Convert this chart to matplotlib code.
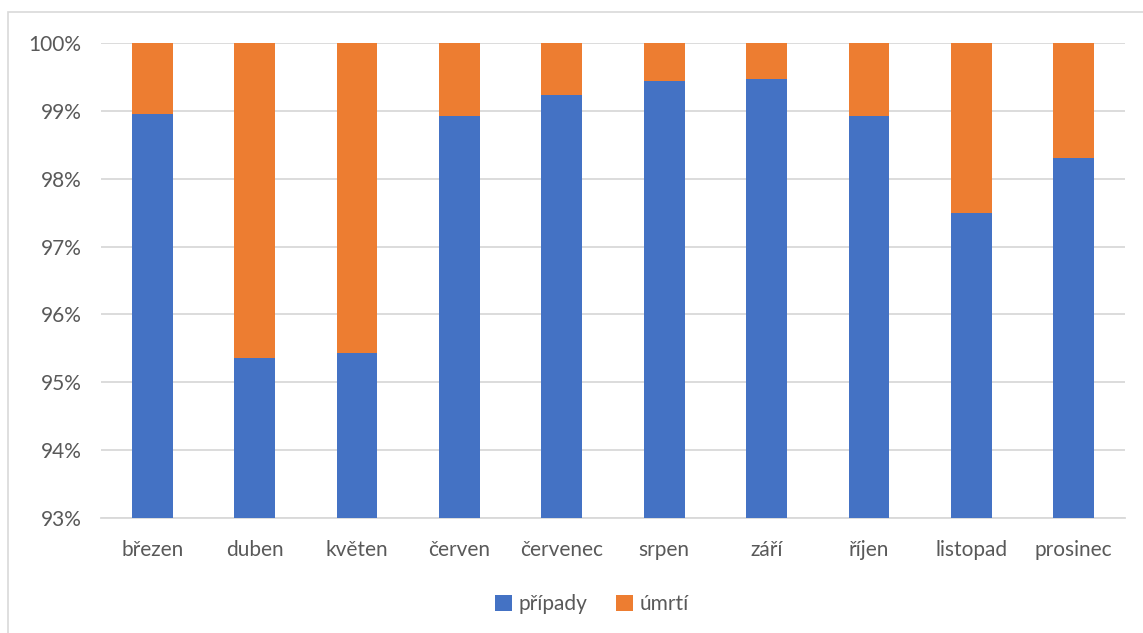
import matplotlib
matplotlib.use("Agg")
import matplotlib.pyplot as plt
from matplotlib.patches import Rectangle
from matplotlib.ticker import FuncFormatter

# months and share of cases (percent); deaths fill up to 100 %
mesice = ["březen", "duben", "květen", "červen", "červenec",
          "srpen", "září", "říjen", "listopad", "prosinec"]
pripady = [98.95, 95.36, 95.43, 98.93, 99.24, 99.44, 99.47, 98.92, 97.49, 98.31]
umrti = [100 - p for p in pripady]

plt.rcParams['font.family'] = ['Lato', 'DejaVu Sans']

fig = plt.figure(figsize=(11.43, 6.33), dpi=100)
ax = fig.add_axes([101 / 1143, 1 - 518 / 633, 1024 / 1143, 475 / 633])

x = range(len(mesice))
ax.bar(x, pripady, width=0.40, color='#4472c4', label='případy', zorder=3)
ax.bar(x, umrti, width=0.40, bottom=pripady, color='#ed7d31', label='úmrtí', zorder=3)

ax.set_ylim(93, 100)
ax.set_xlim(-0.5, len(mesice) - 0.5)
ax.set_yticks(range(93, 101))
ax.yaxis.set_major_formatter(FuncFormatter(lambda v, p: f'{v:.0f}%'))
ax.set_xticks(list(x))
ax.set_xticklabels(mesice)
ax.tick_params(axis='both', length=0, labelsize=15, labelcolor='#595959')
ax.tick_params(axis='x', pad=16)
ax.tick_params(axis='y', pad=14)
ax.grid(axis='y', color='#d9d9d9', linewidth=1.3, zorder=0)
for s in ['top', 'right', 'left']:
    ax.spines[s].set_visible(False)
ax.spines['bottom'].set_color('#d9d9d9')
ax.spines['bottom'].set_linewidth(1.3)

leg = fig.legend(loc='center', bbox_to_anchor=(592 / 1143, 1 - 604 / 633), ncol=2,
                 frameon=False, fontsize=15, handlelength=0.8, handleheight=0.8,
                 handletextpad=0.3, columnspacing=1.4)
for t in leg.get_texts():
    t.set_color('#595959')

# chart area frame
fig.patches.append(Rectangle((8 / 1143, -0.01), 1.02, 1 - 12 / 633 + 0.01,
                             transform=fig.transFigure, fill=False,
                             edgecolor='#d9d9d9', linewidth=1.2))

fig.savefig('out.png', dpi=100)
